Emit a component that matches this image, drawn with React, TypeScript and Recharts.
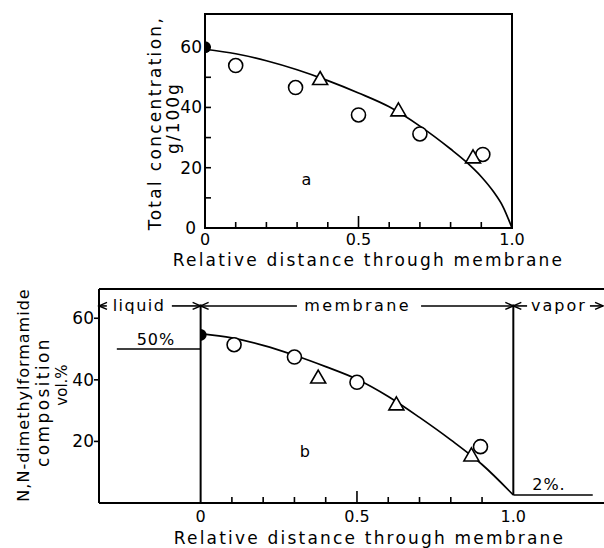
import React from "react";
import {
  ComposedChart,
  Line,
  Scatter,
  XAxis,
  YAxis,
  Label,
  ReferenceLine,
  ReferenceArea,
  ReferenceDot,
} from "recharts";

const FONT = "DejaVu Sans";
const INK = "#000";

// ---- panel a: total concentration, g/100g
const curveA = [
  { x: 0, y: 59.3 }, { x: 0.1, y: 57.8 }, { x: 0.2, y: 55.5 }, { x: 0.3, y: 52.5 },
  { x: 0.4, y: 48.9 }, { x: 0.5, y: 44.8 }, { x: 0.6, y: 40.2 }, { x: 0.7, y: 33.8 },
  { x: 0.8, y: 26.2 }, { x: 0.85, y: 22 }, { x: 0.9, y: 17 }, { x: 0.94, y: 12 },
  { x: 0.97, y: 7.2 }, { x: 1.0, y: 0 },
];
const circlesA = [
  { x: 0.1, y: 53.9 }, { x: 0.295, y: 46.6 }, { x: 0.5, y: 37.5 },
  { x: 0.7, y: 31.2 }, { x: 0.905, y: 24.4 },
];
const trianglesA = [{ x: 0.375, y: 49.6 }, { x: 0.63, y: 39.2 }, { x: 0.873, y: 23.6 }];
const filledA = [{ x: 0, y: 60 }];
const yTicksA = [0, 10, 20, 30, 40, 50, 60];
const yLabelsA = [0, 20, 40, 60];

// ---- panel b: N,N-dimethylformamide, vol.%
const curveB = [
  { x: 0, y: 55 }, { x: 0.1, y: 53.6 }, { x: 0.2, y: 51.2 }, { x: 0.3, y: 48 },
  { x: 0.4, y: 44.3 }, { x: 0.5, y: 40.2 }, { x: 0.6, y: 34.6 }, { x: 0.7, y: 27.8 },
  { x: 0.8, y: 20.5 }, { x: 0.9, y: 12.5 }, { x: 1.0, y: 2.6 },
];
const circlesB = [
  { x: 0.107, y: 51.4 }, { x: 0.3, y: 47.4 }, { x: 0.5, y: 39.2 }, { x: 0.895, y: 18.3 },
];
const trianglesB = [{ x: 0.376, y: 40.9 }, { x: 0.626, y: 32.2 }, { x: 0.866, y: 15.6 }];
const filledB = [{ x: 0, y: 54.6 }];
const yTicksB = [20, 40, 60];
const liquidPct = 50;
const vaporPct = 2.6;
const bandY = 64;

const xTicks = [0, 0.1, 0.2, 0.3, 0.4, 0.5, 0.6, 0.7, 0.8, 0.9, 1.0];
const xLabels = [0, 0.5, 1.0];
const fmtX = (v: number) => (v === 0 ? "0" : v.toFixed(1));

const txt = { fontFamily: FONT, fill: INK };

function XTick(props: any) {
  const { x, y, payload, dy } = props;
  const v = payload.value;
  const tall = v === 0.5;
  return (
    <g>
      {v > 0 && v < 1 && (
        <line x1={x} x2={x} y1={y} y2={y - (tall ? 12 : 6)} stroke={INK} strokeWidth={1.6} />
      )}
      {xLabels.includes(v) && (
        <text x={x} y={y + dy} textAnchor="middle" dominantBaseline="central" fontSize={16} {...txt}>
          {fmtX(v)}
        </text>
      )}
    </g>
  );
}

function YTickA(props: any) {
  const { x, y, payload } = props;
  const v = payload.value;
  return (
    <g>
      {v > 0 && <line x1={x} x2={x + 6} y1={y} y2={y} stroke={INK} strokeWidth={1.6} />}
      {yLabelsA.includes(v) && (
        <text x={x - (v === 0 ? 9 : 3)} y={y} textAnchor="end" dominantBaseline="central" fontSize={17} {...txt}>
          {v}
        </text>
      )}
    </g>
  );
}

function YTickB(props: any) {
  const { x, y, payload } = props;
  return (
    <g>
      <line x1={x - 5} x2={x} y1={y} y2={y} stroke={INK} strokeWidth={1.6} />
      <text x={x - 5} y={y} textAnchor="end" dominantBaseline="central" fontSize={17} {...txt}>
        {payload.value}
      </text>
    </g>
  );
}

function XTitle(props: any) {
  const vb = props.viewBox;
  return (
    <text
      x={vb.x + vb.width / 2 + props.shift}
      y={vb.y + props.down}
      textAnchor="middle"
      dominantBaseline="central"
      fontSize={17}
      style={{ letterSpacing: 2.2 }}
      {...txt}
    >
      Relative distance through membrane
    </text>
  );
}

function YTitle(props: any) {
  const vb = props.viewBox;
  const ax = vb.x + vb.width;
  return (
    <g>
      {props.lines.map((l: any) => {
        const cx = ax + l.dx;
        const cy = props.mid + l.dy;
        return (
          <text
            key={l.t}
            x={cx}
            y={cy}
            transform={`rotate(-90 ${cx} ${cy})`}
            textAnchor="middle"
            dominantBaseline="central"
            fontSize={l.size}
            style={{ letterSpacing: l.ls }}
            {...txt}
          >
            {l.t}
          </text>
        );
      })}
    </g>
  );
}

function Word(props: any) {
  const vb = props.viewBox;
  return (
    <text
      x={vb.x + (vb.width || 0) / 2}
      y={vb.y + (vb.height || 0) / 2}
      textAnchor="middle"
      dominantBaseline="central"
      fontSize={props.size || 16}
      style={{ letterSpacing: props.ls ?? 1.5 }}
      {...txt}
    >
      {props.text}
    </text>
  );
}

function Heads(props: any) {
  const { x, y, width } = props.viewBox;
  const l = 8;
  const h = 3.5;
  return (
    <g stroke={INK} strokeWidth={1.5} fill="none">
      {props.left && <path d={`M${x + l},${y - h}L${x},${y}L${x + l},${y + h}`} />}
      {props.right && <path d={`M${x + width - l},${y - h}L${x + width},${y}L${x + width - l},${y + h}`} />}
    </g>
  );
}

const openCircle = (p: any) => (
  <circle cx={p.cx} cy={p.cy} r={7} fill="#fff" stroke={INK} strokeWidth={1.6} />
);
const triangle = (p: any) => (
  <path
    d={`M${p.cx},${p.cy - 7}L${p.cx + 7.5},${p.cy + 6}L${p.cx - 7.5},${p.cy + 6}Z`}
    fill="#fff"
    stroke={INK}
    strokeWidth={1.6}
  />
);
const halfDot = (p: any) => (
  <path d={`M${p.cx},${p.cy - 6}A6,6 0 0 1 ${p.cx},${p.cy + 6}Z`} fill={INK} />
);

function PanelA() {
  return (
    <ComposedChart width={604} height={275} margin={{ top: 14, right: 92, bottom: 17, left: 155 }}>
      <XAxis
        type="number"
        dataKey="x"
        domain={[0, 1]}
        allowDataOverflow
        ticks={xTicks}
        interval={0}
        height={30}
        tickSize={0}
        tickMargin={0}
        tickLine={false}
        axisLine={{ stroke: INK, strokeWidth: 2 }}
        tick={(p: any) => <XTick {...p} dy={11} />}
      >
        <Label content={<XTitle shift={10} down={32} />} />
      </XAxis>
      <YAxis
        type="number"
        dataKey="y"
        domain={[0, 71]}
        allowDataOverflow
        ticks={yTicksA}
        interval={0}
        width={50}
        tickSize={0}
        tickMargin={0}
        tickLine={false}
        axisLine={{ stroke: INK, strokeWidth: 2 }}
        tick={(p: any) => <YTickA {...p} />}
      >
        <Label
          content={
            <YTitle
              mid={123}
              lines={[
                { t: "Total concentration,", dx: -50, dy: 0, size: 17, ls: 2.3 },
                { t: "g/100g", dx: -32, dy: -5, size: 17, ls: 2 },
              ]}
            />
          }
        />
      </YAxis>
      <ReferenceArea x1={0} x2={1} y1={0} y2={71} fill="none" stroke={INK} strokeWidth={2} ifOverflow="visible" />
      <Line data={curveA} dataKey="y" type="monotone" dot={false} stroke={INK} strokeWidth={1.7} isAnimationActive={false} />
      <Scatter data={circlesA} dataKey="y" shape={openCircle} isAnimationActive={false} />
      <Scatter data={trianglesA} dataKey="y" shape={triangle} isAnimationActive={false} />
      <Scatter data={filledA} dataKey="y" shape={halfDot} isAnimationActive={false} />
      <ReferenceDot x={0.33} y={16} r={0} fill="none" stroke="none" label={<Word text="a" size={16} ls={0} />} />
    </ComposedChart>
  );
}

function PanelB() {
  const seg = (x1: number, x2: number, y: number) => [{ x: x1, y }, { x: x2, y }];
  const line = { stroke: INK, strokeWidth: 1.6, ifOverflow: "visible" as const };
  return (
    <ComposedChart width={604} height={278} margin={{ top: 19, right: 0, bottom: 15, left: 49 }}>
      <XAxis
        type="number"
        dataKey="x"
        domain={[-0.325, 1.29]}
        allowDataOverflow
        ticks={xTicks}
        interval={0}
        height={30}
        tickSize={0}
        tickMargin={0}
        tickLine={false}
        axisLine={{ stroke: INK, strokeWidth: 2 }}
        tick={(p: any) => <XTick {...p} dy={13} />}
      >
        <Label content={<XTitle shift={18} down={35} />} />
      </XAxis>
      <YAxis
        type="number"
        dataKey="y"
        domain={[0, 69.5]}
        allowDataOverflow
        ticks={yTicksB}
        interval={0}
        width={50}
        tickSize={0}
        tickMargin={0}
        tickLine={false}
        axisLine={{ stroke: INK, strokeWidth: 2 }}
        tick={(p: any) => <YTickB {...p} />}
      >
        <Label
          content={
            <YTitle
              mid={126}
              lines={[
                { t: "N,N-dimethylformamide", dx: -76, dy: -1, size: 16, ls: 1 },
                { t: "composition", dx: -56, dy: 6, size: 17, ls: 2.4 },
                { t: "vol.%", dx: -37, dy: -11, size: 15, ls: 0 },
              ]}
            />
          }
        />
      </YAxis>
      <ReferenceLine y={69.5} stroke={INK} strokeWidth={2} />
      {/* phase boundaries */}
      <ReferenceLine segment={[{ x: 0, y: 0 }, { x: 0, y: bandY + 0.5 }]} {...line} strokeWidth={2} />
      <ReferenceLine segment={[{ x: 1, y: vaporPct }, { x: 1, y: bandY + 0.5 }]} {...line} strokeWidth={2} />
      {/* feed and permeate compositions */}
      <ReferenceLine segment={seg(-0.268, 0, liquidPct)} {...line} />
      <ReferenceLine segment={seg(1, 1.254, vaporPct)} {...line} />
      <ReferenceDot x={-0.143} y={53.2} r={0} fill="none" stroke="none" label={<Word text="50%" size={16} ls={1} />} />
      <ReferenceDot x={1.114} y={6} r={0} fill="none" stroke="none" label={<Word text="2%." size={16} ls={1} />} />
      {/* liquid | membrane | vapor band */}
      <ReferenceLine segment={seg(-0.325, -0.3, bandY)} {...line} label={<Heads left />} />
      <ReferenceDot x={-0.197} y={bandY} r={0} fill="none" stroke="none" label={<Word text="liquid" size={16} ls={1.5} />} />
      <ReferenceLine segment={seg(-0.092, 0, bandY)} {...line} label={<Heads right />} />
      <ReferenceLine segment={seg(0, 0.308, bandY)} {...line} label={<Heads left />} />
      <ReferenceDot x={0.502} y={bandY} r={0} fill="none" stroke="none" label={<Word text="membrane" size={16} ls={2.4} />} />
      <ReferenceLine segment={seg(0.705, 1, bandY)} {...line} label={<Heads right />} />
      <ReferenceLine segment={seg(1, 1.044, bandY)} {...line} label={<Heads left />} />
      <ReferenceDot x={1.146} y={bandY} r={0} fill="none" stroke="none" label={<Word text="vapor" size={16} ls={2} />} />
      <ReferenceLine segment={seg(1.245, 1.287, bandY)} {...line} label={<Heads right />} />
      <Line data={curveB} dataKey="y" type="monotone" dot={false} stroke={INK} strokeWidth={1.7} isAnimationActive={false} />
      <Scatter data={circlesB} dataKey="y" shape={openCircle} isAnimationActive={false} />
      <Scatter data={trianglesB} dataKey="y" shape={triangle} isAnimationActive={false} />
      <Scatter data={filledB} dataKey="y" shape={halfDot} isAnimationActive={false} />
      <ReferenceDot x={0.333} y={16.7} r={0} fill="none" stroke="none" label={<Word text="b" size={16} ls={0} />} />
    </ComposedChart>
  );
}

export default function App() {
  return (
    <div style={{ position: "absolute", left: 0, top: 0, width: 604, height: 548, background: "#fff", overflow: "hidden" }}>
      <div style={{ position: "absolute", left: 0, top: 0 }}>
        <PanelA />
      </div>
      <div style={{ position: "absolute", left: 0, top: 270 }}>
        <PanelB />
      </div>
    </div>
  );
}
